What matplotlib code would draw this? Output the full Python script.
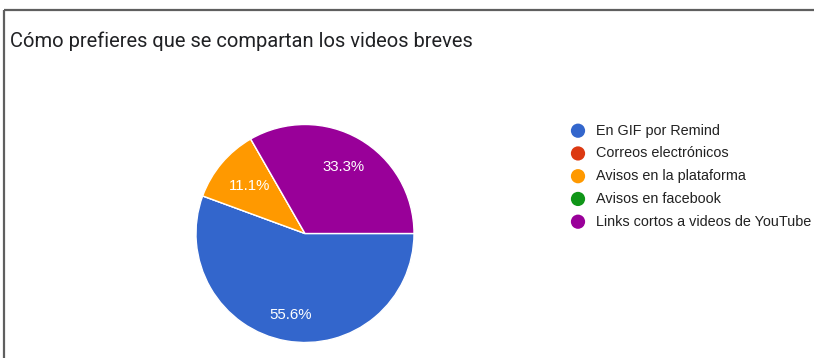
import numpy as np
import matplotlib
matplotlib.use("Agg")
import matplotlib.pyplot as plt

title = "Cómo prefieres que se compartan los videos breves"
categories = [
    "En GIF por Remind",
    "Correos electrónicos",
    "Avisos en la plataforma",
    "Avisos en facebook",
    "Links cortos a videos de YouTube",
]
shares = [55.6, 0.0, 11.1, 0.0, 33.3]
colors = ["#3366cc", "#dc3912", "#ff9900", "#109618", "#990099"]
label_dist = [0.76, 0.7, 0.67, 0.7, 0.70]

W, H = 814, 358
fig = plt.figure(figsize=(W / 100, H / 100), dpi=100)
fig.patch.set_facecolor("white")

# Pie axes, placed in pixel units
cx, cy, r = 305, 233.5, 109
pie_ax = fig.add_axes([(cx - r) / W, (H - cy - r) / H, 2 * r / W, 2 * r / H])
wedges, _ = pie_ax.pie(
    shares,
    colors=colors,
    startangle=0,
    counterclock=False,
    radius=1.0,
    wedgeprops=dict(edgecolor="white", linewidth=1.0),
)
pie_ax.set_xlim(-1, 1)
pie_ax.set_ylim(-1, 1)
pie_ax.set_aspect("auto")
pie_ax.axis("off")

for w, v, d in zip(wedges, shares, label_dist):
    if v <= 0:
        continue
    mid = np.deg2rad((w.theta1 + w.theta2) / 2)
    pie_ax.text(d * np.cos(mid), d * np.sin(mid), f"{v:.1f}%",
                ha="center", va="center", color="white",
                fontsize=10.8, family="Liberation Sans")

# Overlay in pixel coordinates for title, legend and frame
ov = fig.add_axes([0, 0, 1, 1], zorder=-1)
ov.set_xlim(0, W)
ov.set_ylim(H, 0)
ov.axis("off")

ov.plot([3.5, W], [9.5, 9.5], color="#5f5f5f", lw=1.6, solid_capstyle="butt")
ov.plot([3.5, 3.5], [9.5, H], color="#5f5f5f", lw=1.6, solid_capstyle="butt")

ov.text(10, 41, title, ha="left", va="center", fontsize=14.5,
        family="Roboto", color="#202124")

lx, ly0, dy = 578, 130.7, 22.75
for i, (lab, c) in enumerate(zip(categories, colors)):
    y = ly0 + i * dy
    ov.scatter([lx], [y], s=105, color=c, edgecolors="none")
    ov.text(596, y, lab, ha="left", va="center", fontsize=10.4,
            family="Liberation Sans", color="#222222")

fig.savefig("out.png", dpi=100)
